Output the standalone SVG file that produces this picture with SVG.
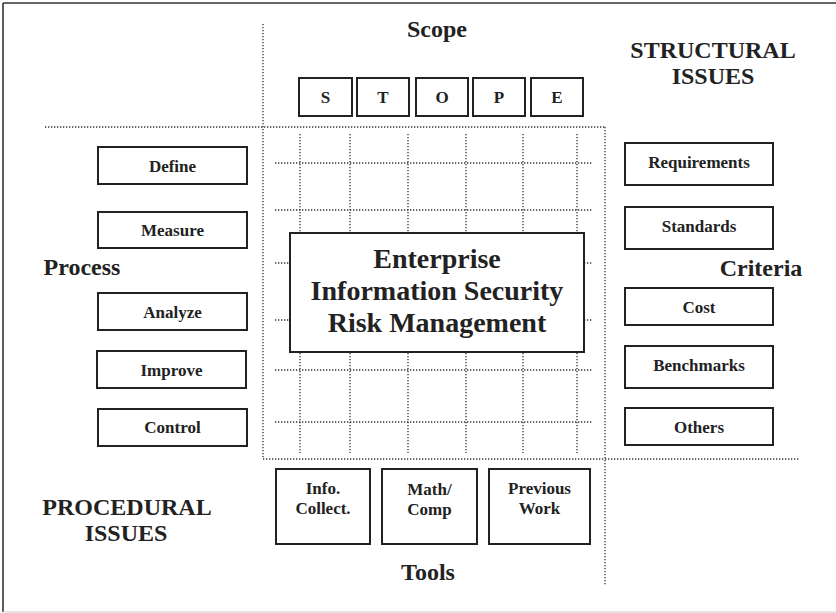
<svg xmlns="http://www.w3.org/2000/svg" width="836" height="613" viewBox="0 0 836 613">
  <style>
    text { font-family: "Liberation Serif", "Times New Roman", serif; font-weight: bold; fill: #222; text-anchor: middle; }
    .head { font-size: 24px; }
    .lbl { font-size: 17px; }
    .title { font-size: 28px; }
    .box { fill: #fff; stroke: #222; stroke-width: 2; }
    .dot { fill: none; stroke: #333; stroke-width: 1.3; stroke-dasharray: 1.3 1.7; }
  </style>

  <!-- frame -->
  <rect x="0" y="0" width="836" height="613" fill="#fff"/>
  <line x1="3" y1="3" x2="836" y2="3" stroke="#333" stroke-width="1.6"/>
  <line x1="3" y1="3" x2="3" y2="612" stroke="#333" stroke-width="1.6"/>
  <line x1="3" y1="612" x2="836" y2="612" stroke="#ddd" stroke-width="1.5"/>

  <!-- dotted quadrant lines and grid -->
  <g id="connectors">
    <line class="dot" x1="263" y1="24" x2="263" y2="459"/>
    <line class="dot" x1="45" y1="127" x2="605" y2="127"/>
    <line class="dot" x1="605" y1="127" x2="605" y2="585"/>
    <line class="dot" x1="263" y1="459" x2="800" y2="459"/>
    <g id="grid-h">
      <line class="dot" x1="275" y1="163" x2="593" y2="163"/>
      <line class="dot" x1="275" y1="210" x2="593" y2="210"/>
      <line class="dot" x1="275" y1="263" x2="593" y2="263"/>
      <line class="dot" x1="275" y1="320" x2="593" y2="320"/>
      <line class="dot" x1="275" y1="370" x2="593" y2="370"/>
      <line class="dot" x1="275" y1="422" x2="593" y2="422"/>
    </g>
    <g id="grid-v">
      <line class="dot" x1="300" y1="134" x2="300" y2="453"/>
      <line class="dot" x1="350" y1="134" x2="350" y2="453"/>
      <line class="dot" x1="408" y1="134" x2="408" y2="453"/>
      <line class="dot" x1="466" y1="134" x2="466" y2="453"/>
      <line class="dot" x1="523" y1="134" x2="523" y2="453"/>
      <line class="dot" x1="577" y1="134" x2="577" y2="453"/>
    </g>
  </g>

  <!-- headings -->
  <g id="headings">
    <text class="head" x="437" y="37">Scope</text>
    <text class="head" x="713" y="58">STRUCTURAL</text>
    <text class="head" x="713" y="84">ISSUES</text>
    <text class="head" x="82" y="275">Process</text>
    <text class="head" x="761" y="276">Criteria</text>
    <text class="head" x="127" y="515">PROCEDURAL</text>
    <text class="head" x="126" y="541">ISSUES</text>
    <text class="head" x="428" y="580">Tools</text>
  </g>

  <!-- scope letters -->
  <g id="scope-s"><rect class="box" x="299" y="78" width="53" height="38"/><text class="lbl" x="325.5" y="103">S</text></g>
  <g id="scope-t"><rect class="box" x="357" y="78" width="52" height="38"/><text class="lbl" x="383" y="103">T</text></g>
  <g id="scope-o"><rect class="box" x="416" y="78" width="52" height="38"/><text class="lbl" x="442" y="103">O</text></g>
  <g id="scope-p"><rect class="box" x="473" y="78" width="52" height="38"/><text class="lbl" x="499" y="103">P</text></g>
  <g id="scope-e"><rect class="box" x="531" y="78" width="52" height="38"/><text class="lbl" x="557" y="103">E</text></g>

  <!-- process steps -->
  <g id="define"><rect class="box" x="98" y="147" width="149" height="37"/><text class="lbl" x="172.5" y="172">Define</text></g>
  <g id="measure"><rect class="box" x="98" y="212" width="149" height="36"/><text class="lbl" x="172.5" y="236">Measure</text></g>
  <g id="analyze"><rect class="box" x="98" y="293" width="149" height="37"/><text class="lbl" x="172.5" y="318">Analyze</text></g>
  <g id="improve"><rect class="box" x="97" y="351" width="149" height="37"/><text class="lbl" x="171.5" y="376">Improve</text></g>
  <g id="control"><rect class="box" x="98" y="409" width="149" height="37"/><text class="lbl" x="172.5" y="433">Control</text></g>

  <!-- criteria -->
  <g id="requirements"><rect class="box" x="625" y="143" width="148" height="42"/><text class="lbl" x="699" y="168">Requirements</text></g>
  <g id="standards"><rect class="box" x="625" y="207" width="148" height="42"/><text class="lbl" x="699" y="232">Standards</text></g>
  <g id="cost"><rect class="box" x="625" y="288" width="148" height="37"/><text class="lbl" x="699" y="313">Cost</text></g>
  <g id="benchmarks"><rect class="box" x="625" y="346" width="148" height="42"/><text class="lbl" x="699" y="371">Benchmarks</text></g>
  <g id="others"><rect class="box" x="625" y="408" width="148" height="37"/><text class="lbl" x="699" y="433">Others</text></g>

  <!-- tools -->
  <g id="info-collect"><rect class="box" x="276" y="469" width="94" height="75"/><text class="lbl" x="323" y="494">Info.</text><text class="lbl" x="323" y="514">Collect.</text></g>
  <g id="math-comp"><rect class="box" x="382" y="469" width="95" height="75"/><text class="lbl" x="429.5" y="495">Math/</text><text class="lbl" x="429.5" y="515">Comp</text></g>
  <g id="previous-work"><rect class="box" x="489" y="469" width="101" height="75"/><text class="lbl" x="539.5" y="494">Previous</text><text class="lbl" x="539.5" y="514">Work</text></g>

  <!-- central node -->
  <g id="eisrm">
    <rect class="box" x="290" y="233" width="294" height="119"/>
    <text class="title" x="437" y="268">Enterprise</text>
    <text class="title" x="437" y="300">Information Security</text>
    <text class="title" x="437" y="332">Risk Management</text>
  </g>
</svg>
